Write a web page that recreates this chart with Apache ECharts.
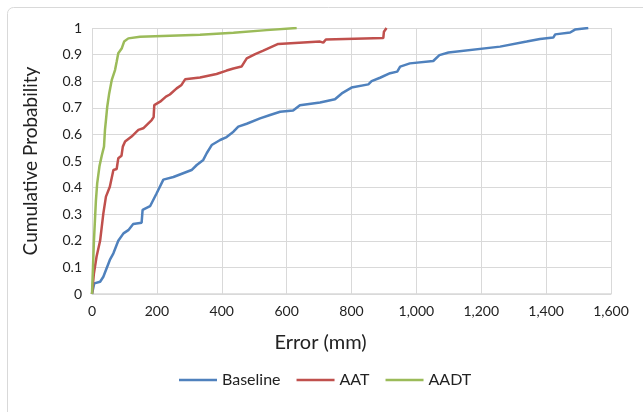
<!DOCTYPE html>
<html>
<head>
<meta charset="utf-8">
<script src="https://cdn.jsdelivr.net/npm/echarts@6/dist/echarts.min.js"></script>
<style>
  html, body { margin: 0; padding: 0; background: #fff; }
  #chart { width: 643px; height: 412px; }
</style>
</head>
<body>
<div id="chart"></div>
<script>
// 误差累积分布 (x: error mm, y: cumulative probability)
const legendNames = ['Baseline', 'AAT', 'AADT'];
const xTicks = [0, 200, 400, 600, 800, 1000, 1200, 1400, 1600];
const yTicks = [0, 0.1, 0.2, 0.3, 0.4, 0.5, 0.6, 0.7, 0.8, 0.9, 1];

const baselinePoints = [
    [0, 0], [7, 0.04], [25, 0.046], [35, 0.065], [55, 0.128], [66, 0.153], [81, 0.2],
    [97, 0.228], [112, 0.24], [127, 0.263], [153, 0.268], [156, 0.316], [179, 0.33],
    [199, 0.378], [220, 0.43], [251, 0.44], [281, 0.454], [307, 0.466], [323, 0.485],
    [343, 0.504], [354, 0.53], [369, 0.56], [395, 0.579], [415, 0.59], [436, 0.61],
    [451, 0.629], [477, 0.64], [518, 0.66], [549, 0.673], [580, 0.685], [620, 0.69],
    [641, 0.71], [703, 0.72], [749, 0.732], [770, 0.754], [800, 0.776], [852, 0.788],
    [862, 0.8], [888, 0.813], [919, 0.83], [941, 0.836], [950, 0.855], [980, 0.867],
    [1052, 0.876], [1071, 0.898], [1099, 0.908], [1258, 0.93], [1340, 0.949],
    [1381, 0.959], [1422, 0.964], [1428, 0.976], [1474, 0.983], [1489, 0.994], [1530, 1]
];

const aatPoints = [
    [0, 0], [6, 0.078], [14, 0.14], [25, 0.2], [35, 0.303], [43, 0.366], [55, 0.403],
    [66, 0.466], [76, 0.47], [81, 0.51], [91, 0.52], [95, 0.554], [102, 0.573],
    [122, 0.592], [143, 0.617], [158, 0.623], [184, 0.654], [190, 0.665], [192, 0.71],
    [210, 0.723], [228, 0.742], [240, 0.75], [261, 0.773], [276, 0.786], [287, 0.807],
    [333, 0.814], [384, 0.827], [415, 0.84], [436, 0.848], [461, 0.855], [477, 0.886],
    [503, 0.902], [528, 0.915], [574, 0.94], [703, 0.949], [713, 0.945], [721, 0.957],
    [898, 0.962], [900, 0.986], [908, 1]
];

const aadtPoints = [
    [0, 0], [3, 0.1], [6, 0.2], [12, 0.35], [16, 0.416], [23, 0.48], [30, 0.52],
    [37, 0.554], [40, 0.617], [43, 0.654], [47, 0.704], [53, 0.754], [61, 0.805],
    [71, 0.842], [76, 0.873], [81, 0.905], [92, 0.924], [99, 0.949], [112, 0.961],
    [148, 0.967], [333, 0.975], [436, 0.982], [538, 0.992], [631, 1]
];

const colors = ['#4F81BD', '#C0504D', '#9BBB59'];
const font = 'Lato, "Open Sans", sans-serif';

function makeLine(name, data, color) {
    return {
        name: name,
        type: 'line',
        data: data,
        symbol: 'none',
        smooth: false,
        lineStyle: { color: color, width: 2.5 },
        itemStyle: { color: color }
    };
}

const option = {
    animation: false,
    textStyle: { fontFamily: font },
    graphic: [{
        type: 'rect',
        shape: { x: 7.5, y: 7.5, width: 660, height: 430, r: 6 },
        style: { fill: 'none', stroke: '#d9d9d9', lineWidth: 1 },
        silent: true
    }],
    grid: { left: 92, right: 32, top: 28, bottom: 118 },
    legend: {
        data: legendNames,
        bottom: 19,
        left: 174,
        icon: 'rect',
        itemWidth: 38,
        itemHeight: 2.5,
        itemGap: 16,
        textStyle: { fontSize: 16, color: '#222', fontFamily: font }
    },
    xAxis: {
        type: 'value',
        min: xTicks[0],
        max: xTicks[xTicks.length - 1],
        interval: 200,
        name: 'Error (mm)',
        nameLocation: 'middle',
        nameGap: 39,
        // 标题略偏左, 与原图一致
        nameTextStyle: { fontSize: 20, color: '#222', fontFamily: font, padding: [0, 62, 0, 0] },
        axisLine: { show: true, lineStyle: { color: '#d9d9d9', width: 1.5 } },
        axisTick: { show: false },
        axisLabel: {
            fontSize: 14,
            color: '#222',
            margin: 10,
            formatter: v => v.toLocaleString('en-US')
        },
        splitLine: { show: true, lineStyle: { color: '#d9d9d9', width: 1 } }
    },
    yAxis: {
        type: 'value',
        min: yTicks[0],
        max: yTicks[yTicks.length - 1],
        interval: 0.1,
        name: 'Cumulative Probability',
        nameLocation: 'middle',
        nameGap: 52,
        nameTextStyle: { fontSize: 19, color: '#222', fontFamily: font },
        axisLine: { show: false },
        axisTick: { show: false },
        axisLabel: {
            fontSize: 14,
            color: '#222',
            margin: 10,
            formatter: v => String(Math.round(v * 10) / 10)
        },
        splitLine: { show: true, lineStyle: { color: '#d9d9d9', width: 1 } }
    },
    series: [
        makeLine(legendNames[0], baselinePoints, colors[0]),
        makeLine(legendNames[1], aatPoints, colors[1]),
        makeLine(legendNames[2], aadtPoints, colors[2])
    ]
};

echarts.init(document.getElementById('chart')).setOption(option);
</script>
</body>
</html>
